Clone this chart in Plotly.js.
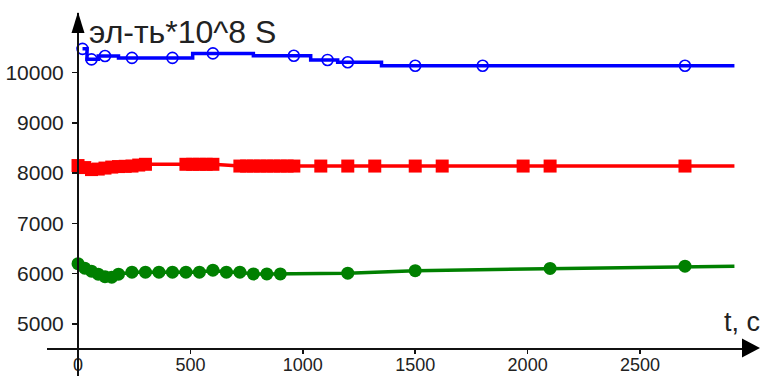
<!DOCTYPE html>
<html>
<head>
<meta charset="utf-8">
<script src="https://cdn.plot.ly/plotly-3.0.1.min.js"></script>
<style>html,body{margin:0;padding:0;background:#fff;}#chart{width:760px;height:376px;}</style>
</head>
<body>
<div id="chart"></div>
<script>
// ---- data (t in seconds, conductivity *10^8 S) ----
const tBlue = [20, 60, 120, 240, 420, 600, 960, 1110, 1200, 1500, 1800, 2700];
const vBlue = [10470, 10262, 10328, 10290, 10290, 10380, 10334, 10250, 10203, 10135, 10135, 10135];

const tRed = [0, 30, 60, 90, 120, 150, 180, 210, 240, 270, 300,
              480, 510, 540, 570, 600,
              720, 750, 780, 810, 840, 870, 900, 930, 960,
              1080, 1200, 1320, 1500, 1620, 1980, 2100, 2700];
const vRed = [8150, 8110, 8070, 8080, 8100, 8120, 8130, 8135, 8140, 8160, 8175,
              8175, 8175, 8175, 8175, 8175,
              8140, 8140, 8140, 8140, 8140, 8140, 8140, 8140, 8140,
              8140, 8140, 8140, 8140, 8140, 8140, 8140, 8140];

const tGreen = [0, 30, 60, 90, 120, 150, 180, 240, 300, 360, 420, 480, 540, 600,
                660, 720, 780, 840, 900, 1200, 1500, 2100, 2700];
const vGreen = [6200, 6110, 6050, 5990, 5940, 5930, 5990, 6030, 6030, 6030, 6030, 6030, 6030, 6070,
                6030, 6030, 5995, 5995, 5995, 6010, 6060, 6105, 6150];

const tEnd = 2920;           // lines are continued to this time
const xTicks = [0, 500, 1000, 1500, 2000, 2500];
const yTicks = [5000, 6000, 7000, 8000, 9000, 10000];
const yLabel = 'эл-ть*10^8 S';
const xLabel = 't, c';

// ---- helpers ----
function ext(t, v) { return {x: t.concat([tEnd]), y: v.concat([v[v.length - 1]])}; }

const W = 760, H = 376, L = 47, R = 15, T = 13, B = 28;
const pw = W - L - R, ph = H - T - B;
const px = x => (x - L) / pw;
const py = y => (H - B - y) / ph;

const bl = ext(tBlue, vBlue), rl = ext(tRed, vRed), gl = ext(tGreen, vGreen);

const traces = [
  {x: gl.x, y: gl.y, mode: 'lines', line: {color: '#008000', width: 3.5}, hoverinfo: 'skip'},
  {x: tGreen, y: vGreen, mode: 'markers', marker: {symbol: 'circle', size: 13, color: '#008000'}},
  {x: rl.x, y: rl.y, mode: 'lines', line: {color: '#ff0000', width: 3.5}, hoverinfo: 'skip'},
  {x: tRed, y: vRed, mode: 'markers', marker: {symbol: 'square', size: 13, color: '#ff0000'}},
  {x: bl.x, y: bl.y, mode: 'lines', line: {color: '#0000ff', width: 3.5, shape: 'hvh'}, hoverinfo: 'skip'},
  {x: tBlue, y: vBlue, mode: 'markers', marker: {symbol: 'circle-open', size: 11, color: '#0000ff', line: {width: 1.6, color: '#0000ff'}}}
];

const font = {family: 'Liberation Sans, Arial, sans-serif', color: '#222'};

const layout = {
  width: W, height: H,
  margin: {l: L, r: R, t: T, b: B, pad: 0},
  paper_bgcolor: '#fff', plot_bgcolor: '#fff',
  showlegend: false,
  font: font,
  xaxis: {
    range: [-138, 2967], domain: [0, 1],
    showgrid: false, zeroline: false,
    showline: true, linecolor: '#111', linewidth: 2,
    ticks: 'outside', ticklen: 4, tickwidth: 1.5, tickcolor: '#111',
    tickvals: xTicks, ticktext: xTicks.map(String),
    ticklabelstandoff: -5,
    tickfont: {family: font.family, size: 18, color: '#222'}
  },
  yaxis: {
    range: [4523, 11183],
    anchor: 'free', position: px(78),
    showgrid: false, zeroline: false,
    showline: true, linecolor: '#111', linewidth: 2,
    ticks: 'outside', ticklen: 5, tickwidth: 1.5, tickcolor: '#111',
    tickvals: yTicks, ticktext: yTicks.map(String),
    ticklabelstandoff: 4,
    tickfont: {family: font.family, size: 21, color: '#222'}
  },
  shapes: [
    {type: 'path', xref: 'paper', yref: 'paper',
     path: `M ${px(78)} ${py(12)} L ${px(71.5)} ${py(33)} L ${px(84.5)} ${py(33)} Z`,
     fillcolor: '#000', line: {width: 0}},
    {type: 'path', xref: 'paper', yref: 'paper',
     path: `M ${px(760)} ${py(348)} L ${px(742)} ${py(338.5)} L ${px(742)} ${py(357.5)} Z`,
     fillcolor: '#000', line: {width: 0}},
    {type: 'line', xref: 'paper', yref: 'paper',
     x0: px(78), x1: px(78), y0: py(348), y1: py(376),
     line: {color: '#111', width: 2}}
  ],
  annotations: [
    {xref: 'paper', yref: 'paper', x: px(87), y: py(32), xanchor: 'left', yanchor: 'middle',
     text: yLabel, showarrow: false, font: {family: font.family, size: 32, color: '#222'}},
    {xref: 'paper', yref: 'paper', x: px(762), y: py(322), xanchor: 'right', yanchor: 'middle',
     text: xLabel, showarrow: false, font: {family: font.family, size: 27, color: '#222'}}
  ]
};

Plotly.newPlot('chart', traces, layout, {staticPlot: true, displayModeBar: false});
</script>
</body>
</html>
